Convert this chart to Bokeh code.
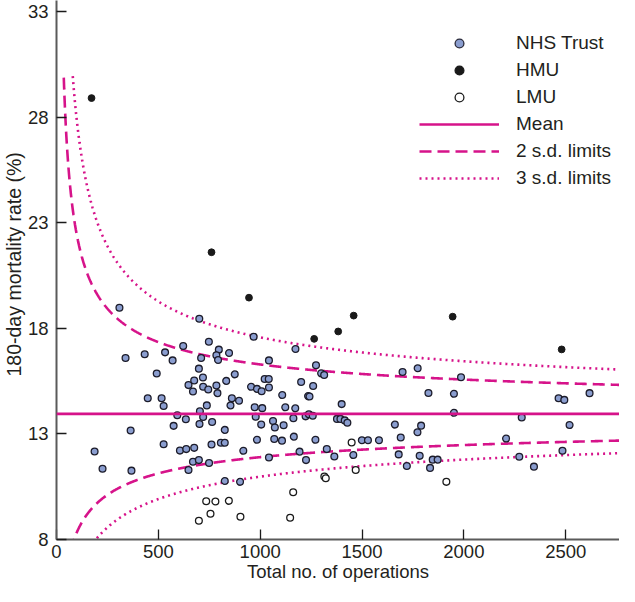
import numpy as np
from bokeh.plotting import figure
from bokeh.models import FixedTicker, Legend, LegendItem, Range1d, Span, Title
from bokeh.embed import file_html
from bokeh.resources import INLINE

# ---- data ----
NHS_N = [309, 701, 968, 1173, 622, 748, 339, 433, 533, 570, 710, 797, 785, 793, 847, 1043,
         492, 699, 719, 676, 648, 670, 720, 745, 785, 790, 833, 875, 955, 984, 1007, 1022,
         1042, 1043, 1201, 448, 516, 526, 738, 861, 854, 896, 1108, 973, 1010, 1123, 1172,
         704, 593, 720, 635, 702, 575, 764, 978, 1063, 1072, 1115, 1163, 1005, 364, 826,
         984, 1069, 1107, 1165, 526, 761, 807, 826, 606, 637, 676, 917, 1193, 187, 226, 368,
         648, 670, 699, 749, 1043, 826, 901, 1274, 1299, 1314, 1260, 1235, 1242, 1223, 1239,
         1258, 1400, 1377, 1394, 1415, 1428, 1271, 1327, 1225, 1364, 1457, 1499, 1529, 1583,
         1661, 1690, 1699, 1773, 1772, 1790, 1680, 1720, 1783, 1826, 1834, 1847, 1871, 1951,
         1951, 1986, 2207, 2284, 2272, 2344, 2465, 2493, 2519, 2484, 2617]
NHS_RATE = [18.97, 18.45, 17.60, 17.02, 17.16, 17.36, 16.59, 16.77, 16.86, 16.48, 16.59, 16.99,
            16.72, 16.50, 16.83, 16.48, 15.86, 16.09, 15.67, 15.53, 15.31, 15.01, 15.23, 15.10,
            15.29, 14.93, 15.51, 15.82, 15.23, 15.13, 15.02, 15.60, 15.60, 15.20, 15.46, 14.69,
            14.69, 14.32, 14.35, 14.69, 14.35, 14.57, 14.84, 14.26, 14.22, 14.26, 14.21, 14.07,
            13.88, 13.80, 13.69, 13.47, 13.38, 13.56, 13.81, 13.61, 13.30, 13.41, 13.74, 13.44,
            13.16, 13.19, 12.72, 12.76, 12.68, 12.87, 12.51, 12.50, 12.58, 12.58, 12.21, 12.28,
            12.34, 12.20, 12.16, 12.17, 11.35, 11.26, 11.29, 11.68, 11.76, 11.62, 11.88, 10.77,
            10.73, 16.25, 15.87, 15.79, 15.27, 14.79, 14.77, 13.83, 13.93, 13.86, 14.41, 13.71,
            13.71, 13.64, 13.53, 12.72, 12.28, 11.76, 11.93, 12.00, 12.70, 12.70, 12.70, 13.44,
            12.83, 15.93, 16.11, 13.08, 13.39, 12.03, 11.48, 11.96, 14.94, 11.39, 11.78, 11.78,
            14.90, 14.00, 15.68, 12.78, 13.78, 11.92, 11.45, 14.69, 14.61, 13.42, 12.20, 14.93]

HMU_N = [172, 761, 945, 1265, 1383, 1459, 1945, 2480]
HMU_RATE = [28.9, 21.6, 19.45, 17.5, 17.85, 18.6, 18.55, 17.0]

LMU_N = [735, 780, 846, 756, 699, 903, 1162, 1147, 1449, 1469, 1315, 1322, 1914]
LMU_RATE = [9.81, 9.80, 9.83, 9.22, 8.89, 9.08, 10.24, 9.03, 12.59, 11.29, 10.98, 10.90, 10.73]

MEAN_RATE = 13.95          # mean mortality (%)
SD_LEVELS = [2, 3]         # control-limit multiples
LIMIT_CAP = 30.0           # curves drawn up to 30 %

X_TICKS = [0, 500, 1000, 1500, 2000, 2500]
Y_TICKS = [8, 13, 18, 23, 28, 33]
X_MAX = 2764
Y_MIN, Y_MAX = 8, 33.52

X_TITLE = "Total no. of operations"
Y_TITLE = "180-day mortality rate (%)"

MAGENTA = "#d6138a"
FONT = "Liberation Sans"
TXT = "#231f20"

# ---- funnel limits (logit-scale binomial limits around the mean) ----
p0 = MEAN_RATE / 100.0
lg0 = np.log(p0 / (1 - p0))
n_grid = np.linspace(10, X_MAX, 1500)
limits = {}
for z in SD_LEVELS:
    se = z / np.sqrt(n_grid * p0 * (1 - p0))
    up = 100 / (1 + np.exp(-(lg0 + se)))
    lo = 100 / (1 + np.exp(-(lg0 - se)))
    keep = up <= LIMIT_CAP
    limits[z] = (n_grid[keep], up[keep], lo[keep])

p = figure(width=619, height=586, output_backend="svg", toolbar_location=None,
           x_range=Range1d(0, X_MAX), y_range=Range1d(Y_MIN, Y_MAX),
           min_border_left=54, min_border_right=0, min_border_top=0, min_border_bottom=47)
p.grid.visible = False
p.outline_line_color = None
p.background_fill_color = "white"

dash_style = {2: "12 6", 3: "2 4"}
for z in SD_LEVELS:
    nn, up, lo = limits[z]
    p.line(nn, up, line_color=MAGENTA, line_width=2.6, line_dash=dash_style[z])
    p.line(nn, lo, line_color=MAGENTA, line_width=2.6, line_dash=dash_style[z])

p.add_layout(Span(location=MEAN_RATE, dimension="width", line_color=MAGENTA, line_width=2.6))

p.scatter(NHS_N, NHS_RATE, marker="circle", size=6.8, fill_color="#8a9dcf",
          line_color="#1c1c2a", line_width=1.3)
p.scatter(HMU_N, HMU_RATE, marker="circle", size=6.8, fill_color="#1a1a1a",
          line_color="#1a1a1a", line_width=1)
p.scatter(LMU_N, LMU_RATE, marker="circle", size=6.8, fill_color="white",
          line_color="#1a1a1a", line_width=1.3)

# legend entries: renderers holding a single missing point, styled for the key
NA = [float("nan")]
l_nhs = p.scatter(NA, NA, marker="circle", size=11, fill_color="#8a9dcf", line_color="#2a2a3a", line_width=1.3)
l_hmu = p.scatter(NA, NA, marker="circle", size=11, fill_color="#1a1a1a", line_color="#1a1a1a", line_width=1.3)
l_lmu = p.scatter(NA, NA, marker="circle", size=11, fill_color="white", line_color="#1a1a1a", line_width=1.3)
l_mean = p.line(NA * 2, NA * 2, line_color=MAGENTA, line_width=2.6)
l_2sd = p.line(NA * 2, NA * 2, line_color=MAGENTA, line_width=2.6, line_dash="12 6")
l_3sd = p.line(NA * 2, NA * 2, line_color=MAGENTA, line_width=2.6, line_dash="2 4")

legend = Legend(items=[
    LegendItem(label="NHS Trust", renderers=[l_nhs]),
    LegendItem(label="HMU", renderers=[l_hmu]),
    LegendItem(label="LMU", renderers=[l_lmu]),
    LegendItem(label="Mean", renderers=[l_mean]),
    LegendItem(label="2 s.d. limits", renderers=[l_2sd]),
    LegendItem(label="3 s.d. limits", renderers=[l_3sd]),
], location=(363, 350), glyph_width=80, glyph_height=22, label_height=22,
    label_standoff=17, spacing=5, padding=0, margin=0,
    border_line_color=None, background_fill_alpha=0,
    label_text_font=FONT, label_text_font_size="19px", label_text_color=TXT)
p.add_layout(legend)

for ax in (p.xaxis[0], p.yaxis[0]):
    ax.axis_line_color = "#5a5a5a"
    ax.axis_line_width = 2
    ax.major_tick_line_color = "#1a1a1a"
    ax.major_tick_line_width = 1.3
    ax.major_tick_in = 10
    ax.major_tick_out = 0
    ax.minor_tick_line_color = None
    ax.major_label_text_font = FONT
    ax.major_label_text_font_size = "18.5px"
    ax.major_label_text_color = TXT

p.xaxis.ticker = FixedTicker(ticks=X_TICKS)
p.yaxis.ticker = FixedTicker(ticks=Y_TICKS)
p.xaxis.major_label_standoff = 5
p.yaxis.major_label_standoff = 8

# x title as the axis label
p.xaxis.axis_label = X_TITLE
p.xaxis.axis_label_standoff = 0
p.xaxis.axis_label_text_font = FONT
p.xaxis.axis_label_text_font_size = "18.5px"
p.xaxis.axis_label_text_font_style = "normal"
p.xaxis.axis_label_text_color = TXT

# y title as a side title, anchored where the reference's text starts
p.add_layout(Title(text=Y_TITLE, align="left", offset=163, standoff=0,
                   text_font=FONT, text_font_size="19.5px", text_font_style="normal",
                   text_color=TXT), "left")

open("out.html", "w").write(file_html(p, INLINE))
